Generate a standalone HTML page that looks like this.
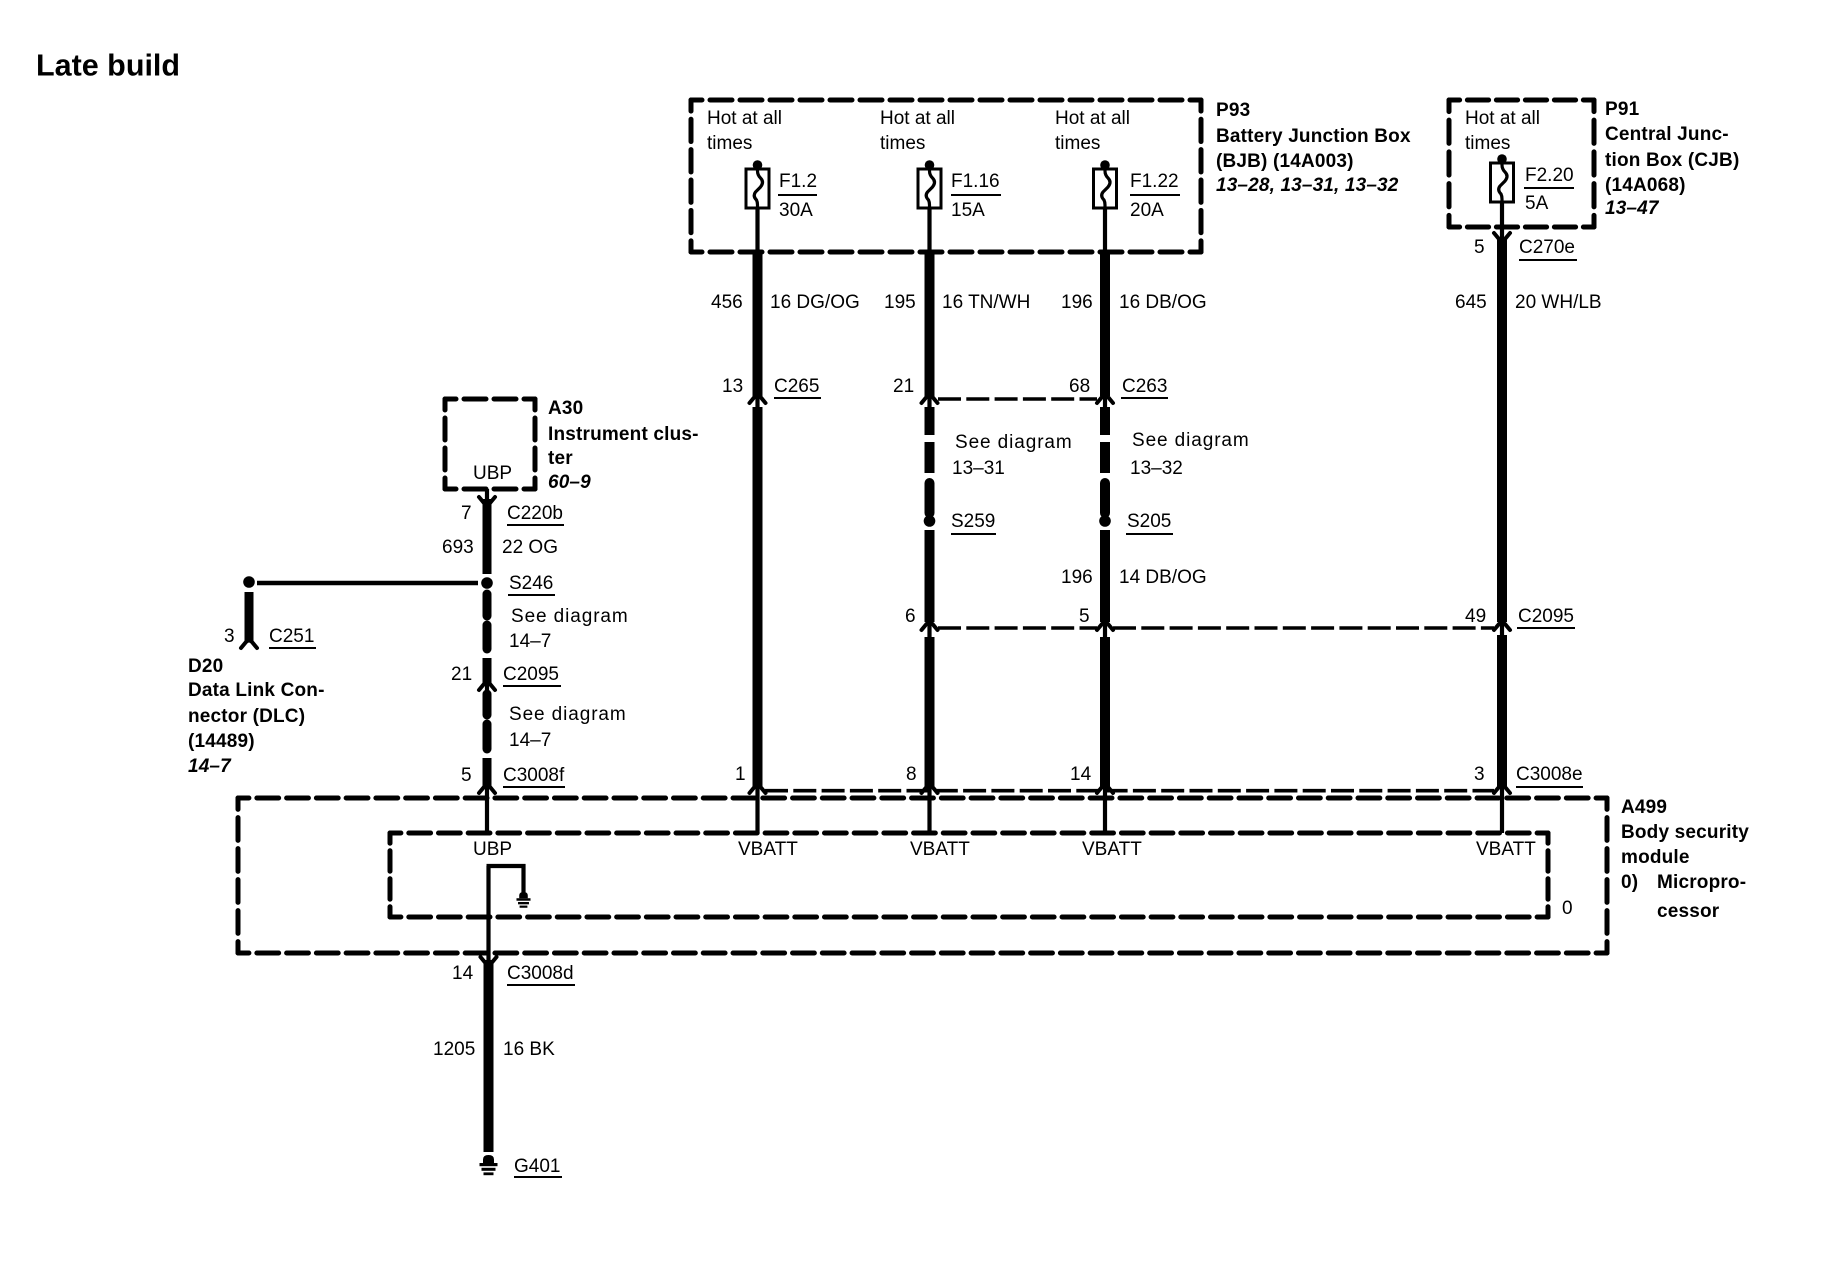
<!DOCTYPE html>
<html><head><meta charset="utf-8"><title>Late build</title>
<style>
html,body{margin:0;padding:0;background:#fff;width:1836px;height:1264px;overflow:hidden}
svg{display:block}
text{font-family:"Liberation Sans",Arial,sans-serif;font-size:19px;fill:#000}
.b{font-weight:bold;letter-spacing:.18px}
.i{font-weight:bold;font-style:italic;letter-spacing:.15px}
.s{letter-spacing:.9px}
.box line{stroke:#000;stroke-width:5;stroke-linecap:round;stroke-dasharray:22 8;stroke-dashoffset:11}
.d line{stroke:#000;stroke-width:3.6;stroke-dasharray:23 5.3}
.u line{stroke:#000;stroke-width:2}
.t line{stroke:#000;stroke-width:4.2;fill:none}
.k line{stroke:#000;stroke-width:10;stroke-linecap:round}
.k8 line{stroke:#000;stroke-width:9;stroke-linecap:round}
</style></head>
<body>
<svg width="1836" height="1264" viewBox="0 0 1836 1264" xmlns="http://www.w3.org/2000/svg">
<defs>
<path id="au" d="M-8 7 L-3 1 Q0 -2 3 1 L8 7" fill="none" stroke="#000" stroke-width="4" stroke-linecap="round"/>
<path id="ad" d="M-8 -7 L-3 -1 Q0 2 3 -1 L8 -7" fill="none" stroke="#000" stroke-width="4" stroke-linecap="round"/>
<g id="fuse">
<circle cx="0" cy="0" r="4.8" fill="#000"/>
<rect x="-11.5" y="4" width="23" height="39" fill="#fff" stroke="#000" stroke-width="3"/>
<path d="M0 0 V6 Q0 10 3 13 Q7 17 3 22 L-2 27 Q-5 31 -1 35 Q0 37 0 40 V46" fill="none" stroke="#000" stroke-width="3.2"/>
</g>
<g id="gnd" fill="#000">
<path d="M-5.5 8 V4.5 Q-5.5 0 0 0 Q5.5 0 5.5 4.5 V8 Z"/>
<rect x="-9" y="8" width="18" height="3.2"/>
<rect x="-7" y="12.8" width="14" height="3"/>
<rect x="-5" y="17.4" width="10" height="2.8"/>
</g>
</defs>

<!-- dashed boxes -->
<g class="box">
<line x1="691" y1="100" x2="1201" y2="100" pathLength="510"/>
<line x1="691" y1="252" x2="1201" y2="252" pathLength="510"/>
<line x1="691" y1="100" x2="691" y2="252" pathLength="150"/>
<line x1="1201" y1="100" x2="1201" y2="252" pathLength="150"/>

<line x1="1449" y1="100" x2="1594" y2="100" pathLength="150"/>
<line x1="1449" y1="227" x2="1594" y2="227" pathLength="150"/>
<line x1="1449" y1="100" x2="1449" y2="227" pathLength="120"/>
<line x1="1594" y1="100" x2="1594" y2="227" pathLength="120"/>

<line x1="445" y1="399" x2="535" y2="399" pathLength="90"/>
<line x1="445" y1="489" x2="535" y2="489" pathLength="90"/>
<line x1="445" y1="399" x2="445" y2="489" pathLength="90"/>
<line x1="535" y1="399" x2="535" y2="489" pathLength="90"/>

<line x1="238" y1="798" x2="1607" y2="798" pathLength="1380"/>
<line x1="238" y1="953" x2="1607" y2="953" pathLength="1380"/>
<line x1="238" y1="798" x2="238" y2="953" pathLength="150"/>
<line x1="1607" y1="798" x2="1607" y2="953" pathLength="150"/>

<line x1="390" y1="833" x2="1548" y2="833" pathLength="1170"/>
<line x1="390" y1="917" x2="1548" y2="917" pathLength="1170"/>
<line x1="390" y1="833" x2="390" y2="917" pathLength="90"/>
<line x1="1548" y1="833" x2="1548" y2="917" pathLength="90"/>
</g>

<!-- dashed horizontal wires -->
<g class="d">
<line x1="938" y1="399" x2="1097" y2="399"/>
<line x1="938" y1="628" x2="1097" y2="628"/>
<line x1="1113" y1="628" x2="1494" y2="628"/>
<line x1="765" y1="790.7" x2="1494" y2="790.7"/>
</g>

<!-- fuses -->
<use href="#fuse" x="757.5" y="165"/>
<use href="#fuse" x="929.5" y="165"/>
<use href="#fuse" x="1105" y="165"/>
<use href="#fuse" x="1502" y="159"/>

<!-- thin wires -->
<g class="t">
<line x1="757.5" y1="208" x2="757.5" y2="254"/>
<line x1="929.5" y1="208" x2="929.5" y2="254"/>
<line x1="1105" y1="208" x2="1105" y2="254"/>
<line x1="1502" y1="202" x2="1502" y2="240"/>
<line x1="757.5" y1="394" x2="757.5" y2="408"/>
<line x1="929.5" y1="394" x2="929.5" y2="408"/>
<line x1="1105" y1="394" x2="1105" y2="408"/>
<line x1="929.5" y1="622" x2="929.5" y2="638"/>
<line x1="1105" y1="622" x2="1105" y2="638"/>
<line x1="1502" y1="622" x2="1502" y2="638"/>
<line x1="757.5" y1="785" x2="757.5" y2="833"/>
<line x1="929.5" y1="785" x2="929.5" y2="833"/>
<line x1="1105" y1="785" x2="1105" y2="833"/>
<line x1="1502" y1="785" x2="1502" y2="833"/>
<line x1="487" y1="489" x2="487" y2="500"/>
<line x1="487" y1="680" x2="487" y2="693"/>
<line x1="487" y1="783" x2="487" y2="833"/>
<line x1="488.5" y1="866" x2="488.5" y2="960"/>
<line x1="486.5" y1="866" x2="525.5" y2="866"/>
<line x1="523.5" y1="864" x2="523.5" y2="893"/>
<line x1="257" y1="583" x2="478" y2="583" style="stroke-width:4.6"/>
</g>

<use href="#gnd" transform="translate(523.5 892) scale(.78)"/>
<use href="#gnd" x="488.5" y="1155"/>

<!-- thick wires -->
<g class="k">
<line x1="757.5" y1="252" x2="757.5" y2="396" style="stroke-linecap:butt"/>
<line x1="929.5" y1="252" x2="929.5" y2="396" style="stroke-linecap:butt"/>
<line x1="1105" y1="252" x2="1105" y2="396" style="stroke-linecap:butt"/>
<line x1="757.5" y1="407" x2="757.5" y2="787" style="stroke-linecap:butt"/>
<line x1="929.5" y1="407" x2="929.5" y2="435" style="stroke-linecap:butt"/>
<line x1="929.5" y1="442" x2="929.5" y2="473" style="stroke-linecap:butt"/>
<line x1="929.5" y1="483" x2="929.5" y2="513"/>
<line x1="929.5" y1="530" x2="929.5" y2="622" style="stroke-linecap:butt"/>
<line x1="929.5" y1="637" x2="929.5" y2="787" style="stroke-linecap:butt"/>
<line x1="1105" y1="407" x2="1105" y2="435" style="stroke-linecap:butt"/>
<line x1="1105" y1="442" x2="1105" y2="473" style="stroke-linecap:butt"/>
<line x1="1105" y1="483" x2="1105" y2="513"/>
<line x1="1105" y1="530" x2="1105" y2="622" style="stroke-linecap:butt"/>
<line x1="1105" y1="637" x2="1105" y2="787" style="stroke-linecap:butt"/>
<line x1="1502" y1="238" x2="1502" y2="622" style="stroke-linecap:butt"/>
<line x1="1502" y1="635" x2="1502" y2="787" style="stroke-linecap:butt"/>
<line x1="488.5" y1="960" x2="488.5" y2="1152" style="stroke-linecap:butt"/>
</g>
<g class="k8">
<line x1="487" y1="499" x2="487" y2="574" style="stroke-linecap:butt"/>
<line x1="487" y1="594" x2="487" y2="616"/>
<line x1="487" y1="625" x2="487" y2="649"/>
<line x1="487" y1="658" x2="487" y2="683" style="stroke-linecap:butt"/>
<line x1="487" y1="694" x2="487" y2="715"/>
<line x1="487" y1="724" x2="487" y2="749"/>
<line x1="487" y1="758" x2="487" y2="786" style="stroke-linecap:butt"/>
<line x1="249" y1="592" x2="249" y2="642" style="stroke-linecap:butt"/>
</g>

<!-- dots -->
<g fill="#000">
<circle cx="487" cy="583" r="5.8"/>
<circle cx="249" cy="582" r="5.8"/>
<circle cx="929.5" cy="521" r="5.8"/>
<circle cx="1105" cy="521" r="5.8"/>
</g>

<!-- arrows -->
<use href="#au" x="757.5" y="396"/><use href="#au" x="929.5" y="396"/><use href="#au" x="1105" y="396"/>
<use href="#au" x="929.5" y="623"/><use href="#au" x="1105" y="623"/><use href="#au" x="1502" y="623"/>
<use href="#au" x="757.5" y="786"/><use href="#au" x="929.5" y="786"/><use href="#au" x="1105" y="786"/><use href="#au" x="1502" y="786"/>
<use href="#au" x="487" y="683"/><use href="#au" x="487" y="786"/><use href="#au" x="249" y="641"/>
<use href="#ad" x="1502" y="240"/><use href="#ad" x="487" y="504"/><use href="#ad" x="488.5" y="964"/>

<!-- underlines -->
<g class="u">
<line x1="778" y1="195" x2="817" y2="195"/>
<line x1="951" y1="195" x2="1001" y2="195"/>
<line x1="1130" y1="195" x2="1180" y2="195"/>
<line x1="1524" y1="188" x2="1574" y2="188"/>
<line x1="1519" y1="260" x2="1577" y2="260"/>
<line x1="774" y1="398" x2="821" y2="398"/>
<line x1="1121" y1="398" x2="1168" y2="398"/>
<line x1="507" y1="525" x2="564" y2="525"/>
<line x1="508" y1="595" x2="555" y2="595"/>
<line x1="503" y1="686" x2="561" y2="686"/>
<line x1="503" y1="787" x2="565" y2="787"/>
<line x1="269" y1="648" x2="316" y2="648"/>
<line x1="951" y1="534" x2="996" y2="534"/>
<line x1="1126" y1="534" x2="1173" y2="534"/>
<line x1="1517" y1="628" x2="1575" y2="628"/>
<line x1="1516" y1="787" x2="1583" y2="787"/>
<line x1="507" y1="985" x2="575" y2="985"/>
<line x1="514" y1="1177" x2="562" y2="1177"/>
</g>

<!-- text -->
<text x="36" y="75.5" style="font-size:30.5px;font-weight:bold">Late build</text>

<text x="707" y="124">Hot at all</text><text x="707" y="149">times</text>
<text x="880" y="124">Hot at all</text><text x="880" y="149">times</text>
<text x="1055" y="124">Hot at all</text><text x="1055" y="149">times</text>
<text x="1465" y="124">Hot at all</text><text x="1465" y="149">times</text>

<text x="779" y="187">F1.2</text><text x="779" y="216">30A</text>
<text x="951" y="187">F1.16</text><text x="951" y="216">15A</text>
<text x="1130" y="187">F1.22</text><text x="1130" y="216">20A</text>
<text x="1525" y="181">F2.20</text><text x="1525" y="209">5A</text>

<text class="b" x="1216" y="116">P93</text>
<text class="b" x="1216" y="142">Battery Junction Box</text>
<text class="b" x="1216" y="167">(BJB) (14A003)</text>
<text class="i" x="1216" y="191">13–28, 13–31, 13–32</text>

<text class="b" x="1605" y="115">P91</text>
<text class="b" x="1605" y="140">Central Junc-</text>
<text class="b" x="1605" y="166">tion Box (CJB)</text>
<text class="b" x="1605" y="191">(14A068)</text>
<text class="i" x="1605" y="214">13–47</text>

<text x="711" y="308">456</text><text x="770" y="308">16 DG/OG</text>
<text x="884" y="308">195</text><text x="942" y="308">16 TN/WH</text>
<text x="1061" y="308">196</text><text x="1119" y="308">16 DB/OG</text>
<text x="1455" y="308">645</text><text x="1515" y="308">20 WH/LB</text>
<text x="1474" y="253">5</text><text x="1519" y="253">C270e</text>

<text x="722" y="392">13</text><text x="774" y="392">C265</text>
<text x="893" y="392">21</text>
<text x="1069" y="392">68</text><text x="1122" y="392">C263</text>

<text class="s" x="955" y="448">See diagram</text><text x="952" y="474">13–31</text>
<text class="s" x="1132" y="446">See diagram</text><text x="1130" y="474">13–32</text>
<text x="951" y="527">S259</text><text x="1127" y="527">S205</text>
<text x="1061" y="583">196</text><text x="1119" y="583">14 DB/OG</text>
<text x="905" y="622">6</text><text x="1079" y="622">5</text>
<text x="1465" y="622">49</text><text x="1518" y="622">C2095</text>
<text x="906" y="780">8</text><text x="1070" y="780">14</text>
<text x="735" y="780">1</text>
<text x="1474" y="780">3</text><text x="1516" y="780">C3008e</text>

<text class="b" x="548" y="414">A30</text>
<text class="b" x="548" y="440">Instrument clus-</text>
<text class="b" x="548" y="464">ter</text>
<text class="i" x="548" y="488">60–9</text>
<text x="473" y="479">UBP</text>
<text x="461" y="519">7</text><text x="507" y="519">C220b</text>
<text x="442" y="553">693</text><text x="502" y="553">22 OG</text>
<text x="509" y="589">S246</text>
<text class="s" x="511" y="622">See diagram</text><text x="509" y="647">14–7</text>
<text x="451" y="680">21</text><text x="503" y="680">C2095</text>
<text class="s" x="509" y="720">See diagram</text><text x="509" y="746">14–7</text>
<text x="461" y="781">5</text><text x="503" y="781">C3008f</text>
<text x="224" y="642">3</text><text x="269" y="642">C251</text>

<text class="b" x="188" y="672">D20</text>
<text class="b" x="188" y="696">Data Link Con-</text>
<text class="b" x="188" y="722">nector (DLC)</text>
<text class="b" x="188" y="747">(14489)</text>
<text class="i" x="188" y="772">14–7</text>

<text x="473" y="855">UBP</text>
<text x="738" y="855">VBATT</text>
<text x="910" y="855">VBATT</text>
<text x="1082" y="855">VBATT</text>
<text x="1476" y="855">VBATT</text>
<text x="1562" y="914">0</text>

<text class="b" x="1621" y="813">A499</text>
<text class="b" x="1621" y="838">Body security</text>
<text class="b" x="1621" y="863">module</text>
<text class="b" x="1621" y="888">0)</text>
<text class="b" x="1657" y="888">Micropro-</text>
<text class="b" x="1657" y="917">cessor</text>

<text x="452" y="979">14</text><text x="507" y="979">C3008d</text>
<text x="433" y="1055">1205</text><text x="503" y="1055">16 BK</text>
<text x="514" y="1172">G401</text>
</svg>
</body></html>
